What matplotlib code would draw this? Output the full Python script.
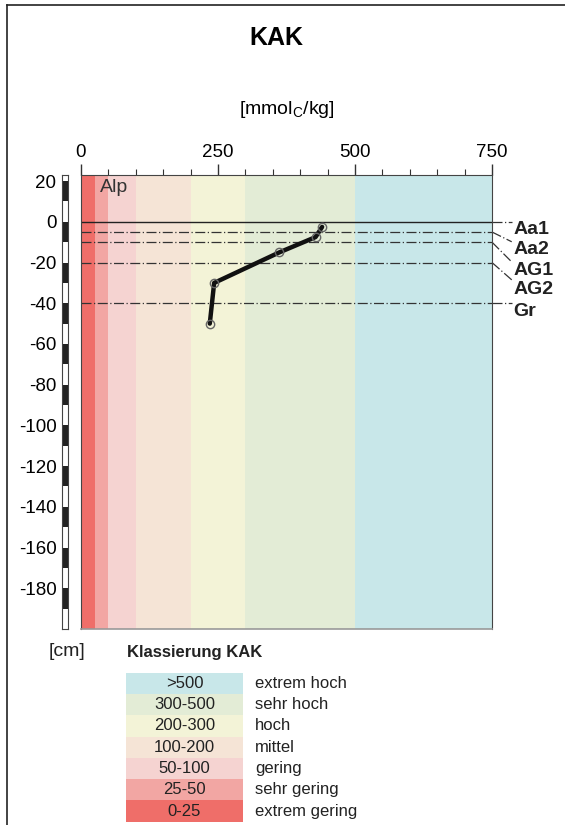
import numpy as np
import matplotlib
matplotlib.use('Agg')
from matplotlib import pyplot as plt
from matplotlib.lines import Line2D

plt.rcParams['font.family'] = ['Liberation Sans', 'DejaVu Sans']
plt.rcParams['mathtext.fontset'] = 'custom'
plt.rcParams['mathtext.rm'] = 'Liberation Sans'
plt.rcParams['axes.unicode_minus'] = False

# KAK profile
kak = [440, 428, 362, 243, 235]
depth = [-2.5, -7.5, -15, -30, -50]

# horizon boundaries and labels
horizon_lines = [0, -5, -10, -20, -40]
horizon_names = ['Aa1', 'Aa2', 'AG1', 'AG2', 'Gr']
leader_end = [0, -9.8, -19.7, -28.5, -40]
name_y = [-3.8, -13.6, -23.9, -33.0, -44.0]

# classes
class_edges = [0, 25, 50, 100, 200, 300, 500, 750]
class_colors = ['#ef6e69', '#f2a6a3', '#f5d3d1', '#f5e4d6', '#f3f3d7', '#e3ecd6', '#c8e7e9']
class_ranges = ['0-25', '25-50', '50-100', '100-200', '200-300', '300-500', '>500']
class_names = ['extrem gering', 'sehr gering', 'gering', 'mittel', 'hoch', 'sehr hoch', 'extrem hoch']

W, H = 565, 825
fig = plt.figure(figsize=(W/100, H/100), dpi=100)

def box(l, t, r, b):
    return [l/W, 1-b/H, (r-l)/W, (b-t)/H]

ax = fig.add_axes(box(81, 175, 492, 629))
ax.set_xlim(0, 750)
ax.set_ylim(-200, 23)

for i in range(len(class_colors)):
    ax.axvspan(class_edges[i], class_edges[i+1], color=class_colors[i], lw=0, zorder=0)

# horizon lines
for k, yv in enumerate(horizon_lines):
    if yv == 0:
        ax.plot([0, 750], [yv, yv], color='#222222', lw=1.0, zorder=2)
    else:
        ax.plot([0, 750], [yv, yv], color='#333333', lw=0.9, ls='-.', dashes=(8, 2, 1, 2), zorder=2)
    ax.plot([750, 786], [yv, leader_end[k]], color='#333333', lw=0.9, ls='-.',
            dashes=(8, 2, 1, 2), clip_on=False, zorder=2)
    ax.text(789, name_y[k], horizon_names[k], fontsize=14, fontweight='bold',
            va='center', ha='left', color='#222222')

ax.plot(kak, depth, color='#111111', lw=3.2, zorder=3, solid_capstyle='round')
ax.plot(kak, depth, ls='none', marker='o', ms=6, mfc='none', mec='#666666', mew=1.0, zorder=4)

ax.text(35, 17, 'Alp', fontsize=14, va='center', ha='left', color='#333333')

ax.xaxis.tick_top()
ax.set_xticks([0, 250, 500, 750])
ax.set_xticks(np.arange(50, 750, 50), minor=True)
ax.tick_params(axis='x', which='major', length=8, width=1, color='#333333', labelsize=13.5, pad=2)
ax.tick_params(axis='x', which='minor', length=4, width=0.8, color='#333333')
ax.set_yticks([])
for s in ['left', 'right', 'top']:
    ax.spines[s].set_color('#444444')
ax.spines['bottom'].set_color('#999999')
ax.spines['bottom'].set_linewidth(1.2)
ax.text(0.5, 1.145, '[mmol$_\\mathrm{C}$/kg]', transform=ax.transAxes, ha='center',
        va='center', fontsize=14)

# depth scale bar
sb = fig.add_axes(box(62, 175, 68, 629))
sb.set_xlim(0, 1)
sb.set_ylim(-200, 23)
for y0 in range(-200, 30, 10):
    c = '#222222' if (y0 // 10) % 2 == 1 else 'white'
    sb.axhspan(y0, y0+10, color=c, lw=0)
sb.set_xticks([])
sb.set_yticks(np.arange(20, -181, -20))
sb.tick_params(axis='y', length=0, pad=4, labelsize=13.5)
for s in sb.spines.values():
    s.set_color('#444444')
    s.set_linewidth(0.8)

fig.text(276/W, 1-38/H, 'KAK', fontsize=18, fontweight='bold', ha='center', va='center')
fig.text(67/W, 1-651/H, '[cm]', fontsize=14, ha='center', va='center', color='#222222')
fig.text(127/W, 1-652/H, 'Klassierung KAK', fontsize=12, fontweight='bold', ha='left',
         va='center', color='#222222')

# legend table
lg = fig.add_axes(box(126, 672.7, 400, 821.7))
lg.set_xlim(0, 274)
lg.set_ylim(0, 7)
lg.axis('off')
for i in range(len(class_colors)):
    lg.barh(i + 0.5, 117, height=1, left=0, color=class_colors[i], lw=0)
    lg.text(58.5, i + 0.5, class_ranges[i], ha='center', va='center', fontsize=12, color='#222222')
    lg.text(129, i + 0.5, class_names[i], ha='left', va='center', fontsize=12, color='#222222')

# frame lines
fig.add_artist(Line2D([7/W, 1], [1-5/H, 1-5/H], color='#222222', lw=1.2))
fig.add_artist(Line2D([7/W, 7/W], [0, 1-5/H], color='#222222', lw=1.2))

fig.savefig('out.png', dpi=100)
